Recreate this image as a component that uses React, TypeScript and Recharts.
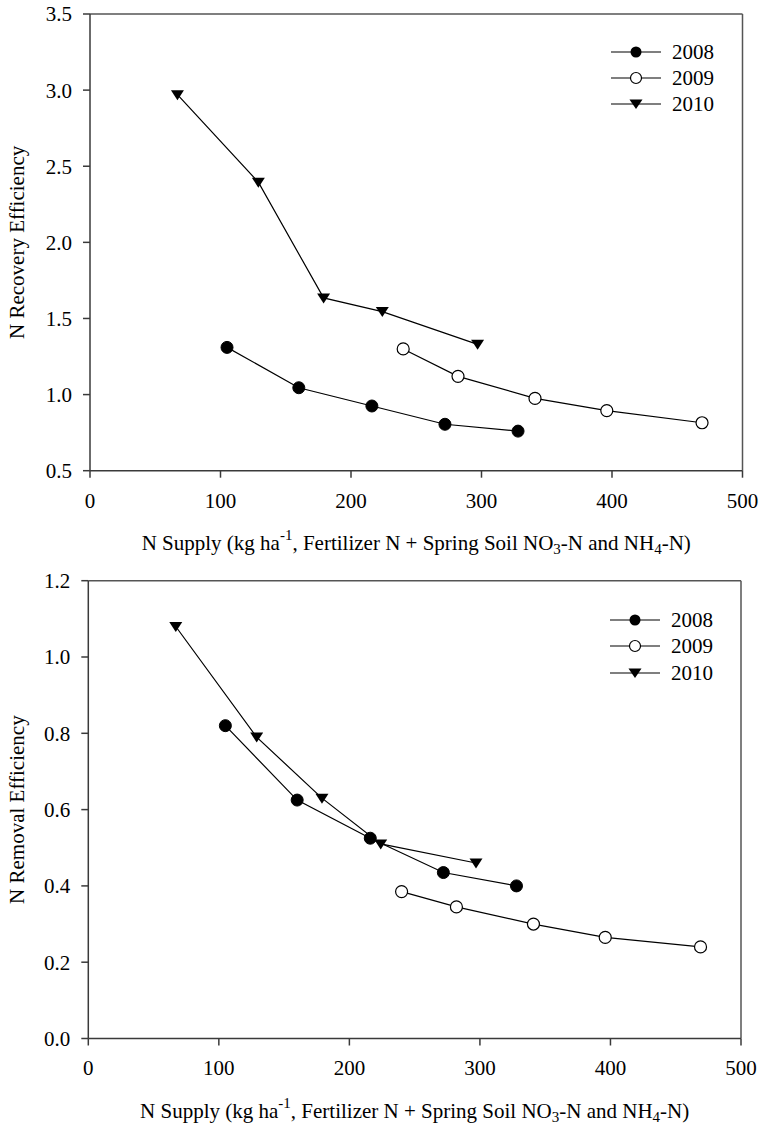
import React from 'react';
import { LineChart, Line, XAxis, YAxis, ReferenceLine } from 'recharts';

// N supply (kg/ha) for each year
const supply2008 = [105, 160, 216, 272, 328];
const supply2009 = [240, 282, 341, 396, 469];
const supply2010 = [67, 129, 179, 224, 297];

// N recovery efficiency
const recovery2008 = [1.31, 1.045, 0.925, 0.805, 0.76];
const recovery2009 = [1.3, 1.12, 0.975, 0.895, 0.815];
const recovery2010 = [2.97, 2.395, 1.635, 1.545, 1.33];

// N removal efficiency
const removal2008 = [0.82, 0.625, 0.525, 0.435, 0.4];
const removal2009 = [0.385, 0.345, 0.3, 0.265, 0.24];
const removal2010 = [1.08, 0.79, 0.63, 0.51, 0.46];

const years = ['2008', '2009', '2010'];
const xTicks = [0, 100, 200, 300, 400, 500];
const recoveryTicks = [0.5, 1.0, 1.5, 2.0, 2.5, 3.0, 3.5];
const removalTicks = [0, 0.2, 0.4, 0.6, 0.8, 1.0, 1.2];

const FONT = '"Liberation Serif", "Times New Roman", serif';
const AXIS = '#3a3a3a';

const zip = (xs: number[], ys: number[]) => xs.map((x, i) => ({ x, y: ys[i] }));

const FilledDot = (p: any) => <circle key={`f${p.index}`} cx={p.cx} cy={p.cy} r={6} fill="#000" stroke="#000" strokeWidth={1} />;
const OpenDot = (p: any) => <circle key={`o${p.index}`} cx={p.cx} cy={p.cy} r={6} fill="#fff" stroke="#000" strokeWidth={1.2} />;
const TriDot = (p: any) => (
  <path key={`t${p.index}`} d={`M${p.cx - 6.5},${p.cy - 4.5} L${p.cx + 6.5},${p.cy - 4.5} L${p.cx},${p.cy + 5.5} Z`} fill="#000" />
);

const markerFor = (i: number) => {
  if (i === 0) return <circle cx={25} cy={13} r={5.5} fill="#000" />;
  if (i === 1) return <circle cx={25} cy={13} r={5.5} fill="#fff" stroke="#000" strokeWidth={1.2} />;
  return <path d="M18.5,8.5 L31.5,8.5 L25,18 Z" fill="#000" />;
};

const LegendBox = ({ top, left }: { top: number; left: number }) => (
  <div style={{ position: 'absolute', top, left, fontFamily: FONT, fontSize: 21, color: '#000' }}>
    {years.map((y, i) => (
      <div key={y} style={{ display: 'flex', alignItems: 'center', height: 26.3 }}>
        <svg width={50} height={26} style={{ display: 'block' }}>
          <line x1={0} y1={13} x2={50} y2={13} stroke="#000" strokeWidth={1.2} />
          {markerFor(i)}
        </svg>
        <span style={{ marginLeft: 11, lineHeight: '26px' }}>{y}</span>
      </div>
    ))}
  </div>
);

const XTick = (p: any) => (
  <text x={p.x} y={p.y} dy="0.71em" textAnchor="middle" fontFamily={FONT} fontSize={21} fill="#000">
    {p.payload.value}
  </text>
);

const YTick = (p: any) => (
  <text x={p.x} y={p.y} dy="0.355em" textAnchor="end" fontFamily={FONT} fontSize={21} fill="#000">
    {Number(p.payload.value).toFixed(1)}
  </text>
);

const XTitle = (props: any) => {
  const vb = props.viewBox || {};
  const cx = vb.x + vb.width / 2;
  const by = vb.y + 79;
  return (
    <text x={cx} y={by} textAnchor="middle" fontFamily={FONT} fontSize={21} fill="#000">
      <tspan>N Supply (kg ha</tspan>
      <tspan dy={-10} fontSize={15}>-1</tspan>
      <tspan dy={10}>, Fertilizer N + Spring Soil NO</tspan>
      <tspan dy={4} fontSize={15}>3</tspan>
      <tspan dy={-4}>-N and NH</tspan>
      <tspan dy={4} fontSize={15}>4</tspan>
      <tspan dy={-4}>-N)</tspan>
    </text>
  );
};

const makeYTitle = (title: string) => (props: any) => {
  const vb = props.viewBox || {};
  const cy = vb.y + vb.height / 2;
  return (
    <text x={17} y={cy} transform={`rotate(-90, 17, ${cy})`} textAnchor="middle" dominantBaseline="central"
      fontFamily={FONT} fontSize={21} fill="#000">
      {title}
    </text>
  );
};

type PanelProps = {
  height: number;
  top: number;
  left: number;
  right: number;
  xAxisHeight: number;
  yDomain: [number, number];
  yTicks: number[];
  series: { x: number; y: number }[][];
  yTitle: string;
};

const Panel = ({ height, top, left, right, xAxisHeight, yDomain, yTicks, series, yTitle }: PanelProps) => {
  const dots = [FilledDot, OpenDot, TriDot];
  return (
    <LineChart width={761} height={height} margin={{ top, right, bottom: 0, left: 0 }} style={{ fontFamily: FONT }}>
      <XAxis type="number" dataKey="x" domain={[0, 500]} ticks={xTicks} allowDataOverflow
        height={xAxisHeight} tick={<XTick />} tickSize={7} tickMargin={15}
        axisLine={{ stroke: AXIS, strokeWidth: 1.5 }} tickLine={{ stroke: AXIS, strokeWidth: 1.5 }}
        label={{ content: XTitle }} />
      <YAxis type="number" dataKey="y" domain={yDomain} ticks={yTicks} allowDataOverflow
        width={left} tick={<YTick />} tickSize={7} tickMargin={11}
        axisLine={{ stroke: AXIS, strokeWidth: 1.5 }} tickLine={{ stroke: AXIS, strokeWidth: 1.5 }}
        label={{ content: makeYTitle(yTitle) }} />
      <ReferenceLine y={yDomain[1]} stroke="#555" strokeWidth={1.5} />
      <ReferenceLine x={500} stroke="#555" strokeWidth={1.5} />
      {series.map((d, i) => (
        <Line key={years[i]} data={d} dataKey="y" name={years[i]} type="linear" stroke="#000" strokeWidth={1.2}
          dot={dots[i]} activeDot={false} isAnimationActive={false} />
      ))}
    </LineChart>
  );
};

export default function App() {
  return (
    <div style={{ position: 'absolute', left: 0, top: 0, width: 761, height: 1124, background: '#fff', fontFamily: FONT }}>
      <div style={{ position: 'absolute', left: 0, top: 0 }}>
        <Panel height={560} top={14} left={90} right={18.5} xAxisHeight={89.3}
          yDomain={[0.5, 3.5]} yTicks={recoveryTicks}
          series={[zip(supply2008, recovery2008), zip(supply2009, recovery2009), zip(supply2010, recovery2010)]}
          yTitle="N Recovery Efficiency" />
      </div>
      <LegendBox top={38.5} left={611} />
      <div style={{ position: 'absolute', left: 0, top: 560 }}>
        <Panel height={564} top={20.7} left={88.3} right={20} xAxisHeight={85.5}
          yDomain={[0, 1.2]} yTicks={removalTicks}
          series={[zip(supply2008, removal2008), zip(supply2009, removal2009), zip(supply2010, removal2010)]}
          yTitle="N Removal Efficiency" />
      </div>
      <LegendBox top={607} left={610} />
    </div>
  );
}
